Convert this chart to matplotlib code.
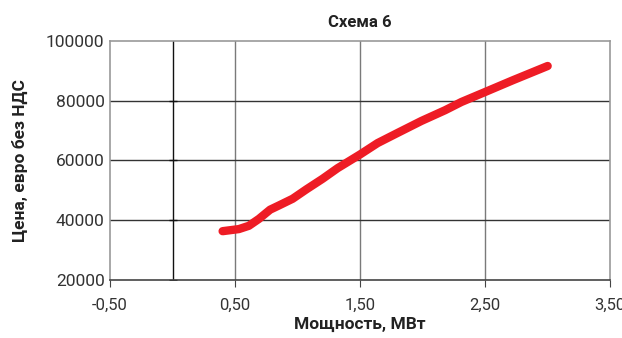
import matplotlib.pyplot as plt
import numpy as np

# данные
moshchnost = [0.40, 0.53, 0.61, 0.69, 0.78, 0.85, 0.96, 1.07, 1.20, 1.32, 1.50,
              1.64, 1.80, 1.99, 2.18, 2.31, 2.50, 2.72, 3.00]
cena = [36300, 37000, 38100, 40400, 43500, 44900, 47150, 50300, 53850, 57400, 62000,
        65800, 69200, 73200, 76800, 79550, 82900, 86800, 91600]
x_ticks = [-0.5, 0.5, 1.5, 2.5, 3.5]
y_ticks = [20000, 40000, 60000, 80000, 100000]

plt.rcParams['font.family'] = ['Roboto', 'DejaVu Sans']

fig = plt.figure(figsize=(6.22, 3.38), dpi=100)
ax = fig.add_axes([0.177, 0.172, 0.804, 0.707])

ax.set_xlim(-0.5, 3.5)
ax.set_ylim(20000, 100000)

# сетка
for x in [0.5, 1.5, 2.5]:
    ax.axvline(x, color="#7a7a7a", lw=1.0, zorder=1)
for y in [40000, 60000, 80000]:
    ax.axhline(y, color="#333333", lw=1.0, zorder=1)
ax.axvline(0, color="#111111", lw=1.0, zorder=1)
# засечки на оси x=0
ax.plot([0] * 4, y_ticks[:4], marker="_", ms=6, color="#111111", ls="none", zorder=1)

ax.plot(moshchnost, cena, color="#ee1c25", lw=6, solid_capstyle="round",
        solid_joinstyle="round", zorder=3)

for side in ["left", "top", "right"]:
    ax.spines[side].set_color("#999999")
    ax.spines[side].set_linewidth(1.2)
ax.spines["bottom"].set_color("#444444")
ax.spines["bottom"].set_linewidth(1.2)

ax.set_xticks(x_ticks)
ax.set_xticklabels([f"{v:.2f}".replace(".", ",") for v in x_ticks])
ax.set_yticks(y_ticks)
ax.set_yticklabels([str(v) for v in y_ticks])
ax.tick_params(axis="x", direction="out", length=5, color="#444444", labelsize=12,
               labelcolor="#333333", pad=8)
ax.tick_params(axis="y", length=0, labelsize=12.5, labelcolor="#333333", pad=4)

ax.set_title("Схема 6", fontsize=12, fontweight="bold", color="#222222", pad=10)
ax.set_xlabel("Мощность, МВт", fontsize=12.5, fontweight="bold", color="#222222", labelpad=3)
ax.set_ylabel("Цена, евро без НДС", fontsize=12.5, fontweight="bold", color="#222222", labelpad=13)

plt.savefig("out.png", dpi=100)
